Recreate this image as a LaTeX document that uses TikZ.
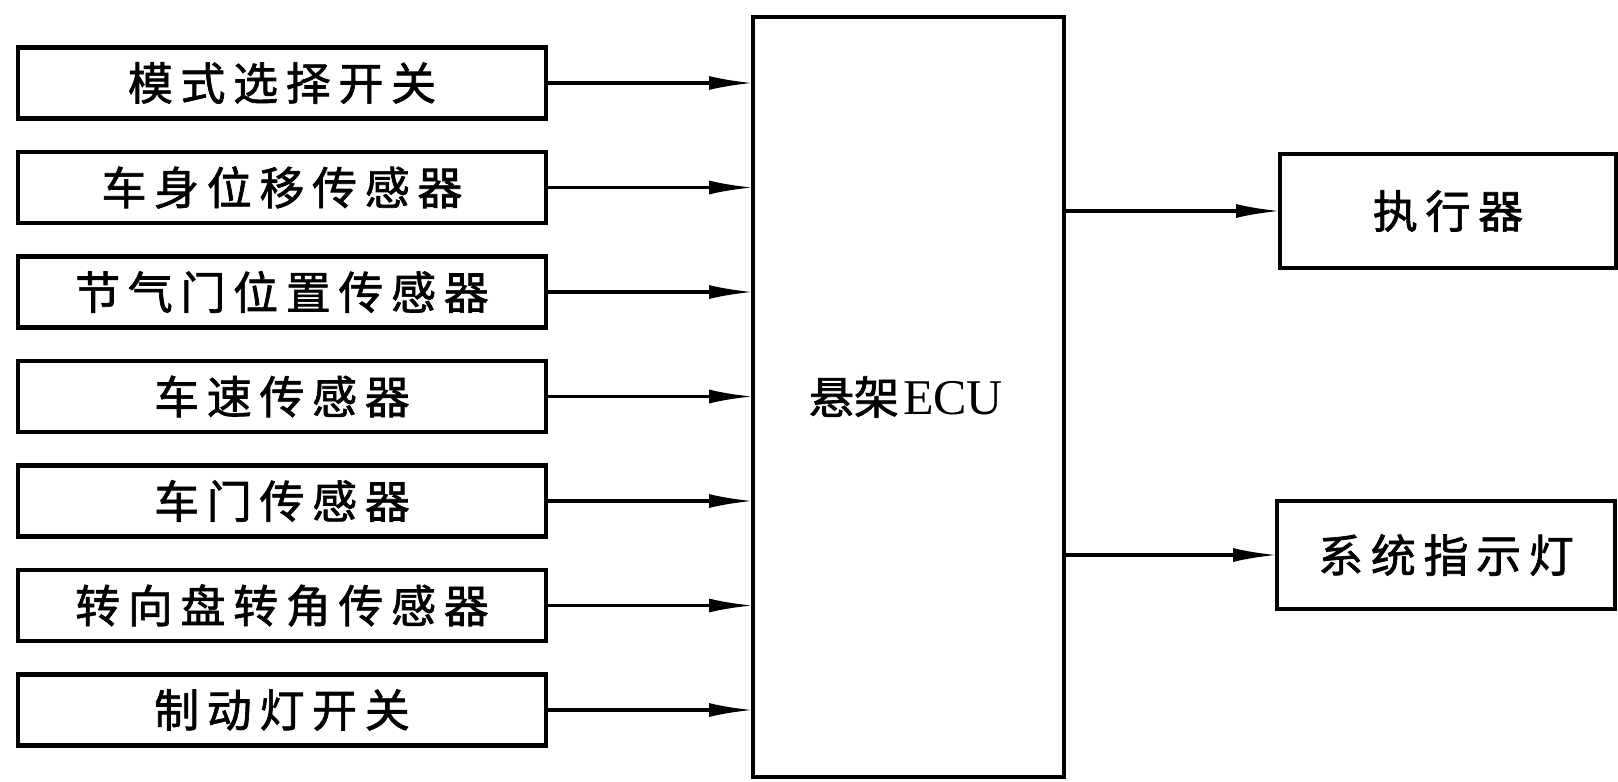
\documentclass[tikz,border=0pt]{standalone}
\usepackage{fontspec}
\setmainfont{Liberation Serif}
\newfontfamily\cjk[LetterSpace=17,FakeBold=1.5]{Noto Sans CJK SC}
\newfontfamily\cjkn[FakeBold=1.5]{Noto Sans CJK SC}
\usetikzlibrary{arrows.meta}
\tikzset{
  inbox/.style={draw, line width=2.4pt, minimum width=264pt, minimum height=35.5pt,
    inner sep=0pt, outer sep=0pt, font=\cjk\fontsize{22.5pt}{26pt}\selectfont},
  ecubox/.style={draw, line width=2.2pt, minimum width=155.5pt, minimum height=380pt,
    inner sep=0pt, outer sep=0pt},
  outbox/.style={draw, line width=2.4pt, inner sep=0pt, outer sep=0pt,
    font=\cjk\fontsize{22.5pt}{26pt}\selectfont},
  conn/.style={line width=1.6pt, -{Latex[length=22pt,width=7pt]}},
}
\begin{document}
\begin{tikzpicture}[x=0.5pt,y=-0.5pt]
\useasboundingbox (0,0) rectangle (1618,782);
\node[inbox] (b1) at (282,83)    {模式选择开关};
\node[inbox] (b2) at (282,187.5) {车身位移传感器};
\node[inbox] (b3) at (282,292)   {节气门位置传感器};
\node[inbox] (b4) at (282,396.5) {车速传感器};
\node[inbox] (b5) at (282,501)   {车门传感器};
\node[inbox] (b6) at (282,605.5) {转向盘转角传感器};
\node[inbox] (b7) at (282,710)   {制动灯开关};
\node[ecubox] (ecu) at (908.5,397) {};
\node (ecut) at (906,397) {\cjkn\fontsize{22.5pt}{26pt}\selectfont 悬架\kern2pt\fontsize{25pt}{26pt}\selectfont\rmfamily ECU};
\node[outbox, minimum width=168pt, minimum height=57pt] (act) at (1448,211) {执行器};
\node[outbox, minimum width=169pt, minimum height=54pt] (sys) at (1446,555) {系统指示灯};
\foreach \b in {b1,b2,b3,b4,b5,b6,b7}{
  \draw[conn] (\b.east) -- (ecu.west |- \b.east);
}
\draw[conn] (ecu.east |- act.west) -- (act.west);
\draw[conn] (ecu.east |- sys.west) -- (sys.west);
\end{tikzpicture}
\end{document}
